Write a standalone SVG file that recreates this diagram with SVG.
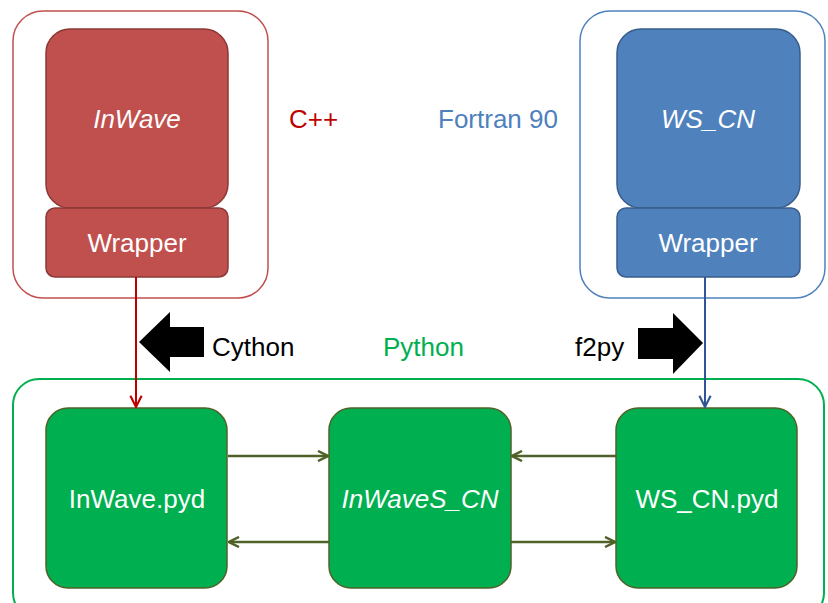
<svg xmlns="http://www.w3.org/2000/svg" width="828" height="603" viewBox="0 0 828 603">
<style>
text{font-family:"Liberation Sans",Arial,sans-serif;font-size:26px}
.w{fill:#ffffff;text-anchor:middle}
.it{font-style:italic}
.red{fill:#c0504d;stroke:#8c3836;stroke-width:1.5}
.blue{fill:#4f81bd;stroke:#385d8a;stroke-width:1.5}
.grn{fill:#00b050;stroke:#4f6228;stroke-width:1.5}
.olive{stroke:#4f6228;stroke-width:2.5;fill:none}
</style>
<defs>
<marker id="ao" viewBox="0 0 10 10" refX="9" refY="5" markerWidth="5" markerHeight="5" orient="auto" markerUnits="strokeWidth"><path d="M1,1 L9,5 L1,9" fill="none" stroke="#4f6228" stroke-width="2"/></marker>
<marker id="ar" viewBox="0 0 10 10" refX="9" refY="5" markerWidth="7" markerHeight="7" orient="auto" markerUnits="strokeWidth"><path d="M1,1 L9,5 L1,9" fill="none" stroke="#c00000" stroke-width="1.5"/></marker>
<marker id="ab" viewBox="0 0 10 10" refX="9" refY="5" markerWidth="7" markerHeight="7" orient="auto" markerUnits="strokeWidth"><path d="M1,1 L9,5 L1,9" fill="none" stroke="#2f5597" stroke-width="1.5"/></marker>
</defs>
<rect width="828" height="603" fill="#ffffff"/>
<g id="cpp-container">
<rect x="13" y="11" width="255" height="287" rx="30" fill="none" stroke="#c0504d" stroke-width="1.5"/>
<text x="289" y="128" fill="#c00000">C++</text>
</g>
<g id="fortran-container">
<rect x="580" y="11" width="245" height="287" rx="30" fill="none" stroke="#4f81bd" stroke-width="1.5"/>
<text x="438" y="128" fill="#4f81bd">Fortran 90</text>
</g>
<g id="python-container">
<rect x="13" y="379" width="811" height="240" rx="26" fill="none" stroke="#00b050" stroke-width="2"/>
<text x="383" y="356" fill="#00b050">Python</text>
</g>
<g id="inwave">
<rect class="red" x="46" y="29" width="182" height="179" rx="24"/>
<text class="w it" x="137" y="128">InWave</text>
</g>
<g id="inwave-wrapper">
<rect class="red" x="46" y="208" width="182" height="69" rx="9"/>
<text class="w" x="137" y="252">Wrapper</text>
</g>
<g id="wscn">
<rect class="blue" x="617" y="29" width="183" height="179" rx="24"/>
<text class="w it" x="708" y="128">WS_CN</text>
</g>
<g id="wscn-wrapper">
<rect class="blue" x="617" y="208" width="183" height="69" rx="9"/>
<text class="w" x="708" y="252">Wrapper</text>
</g>
<g id="inwave-pyd">
<rect class="grn" x="46" y="408" width="181" height="180" rx="22"/>
<text class="w" x="137" y="508">InWave.pyd</text>
</g>
<g id="inwaves-cn">
<rect class="grn" x="329" y="408" width="182" height="180" rx="22"/>
<text class="w it" x="420" y="508">InWaveS_CN</text>
</g>
<g id="wscn-pyd">
<rect class="grn" x="616" y="408" width="181" height="180" rx="22"/>
<text class="w" x="707" y="508">WS_CN.pyd</text>
</g>
<g id="cython">
<polygon points="139,342 170,312 170,327 204,327 204,357 170,357 170,372" fill="#000"/>
<text x="212" y="356" fill="#000">Cython</text>
</g>
<g id="f2py">
<polygon points="703,343 673,313 673,328 638,328 638,359 673,359 673,374" fill="#000"/>
<text x="575" y="356" fill="#000">f2py</text>
</g>
<g id="connectors">
<line x1="136" y1="277" x2="136" y2="407" stroke="#c00000" stroke-width="2" marker-end="url(#ar)"/>
<line x1="705" y1="277" x2="705" y2="407" stroke="#2f5597" stroke-width="2" marker-end="url(#ab)"/>
<line class="olive" x1="228" y1="456" x2="328" y2="456" marker-end="url(#ao)"/>
<line class="olive" x1="616" y1="456" x2="512" y2="456" marker-end="url(#ao)"/>
<line class="olive" x1="329" y1="542" x2="229" y2="542" marker-end="url(#ao)"/>
<line class="olive" x1="511" y1="542" x2="615" y2="542" marker-end="url(#ao)"/>
</g>
</svg>
